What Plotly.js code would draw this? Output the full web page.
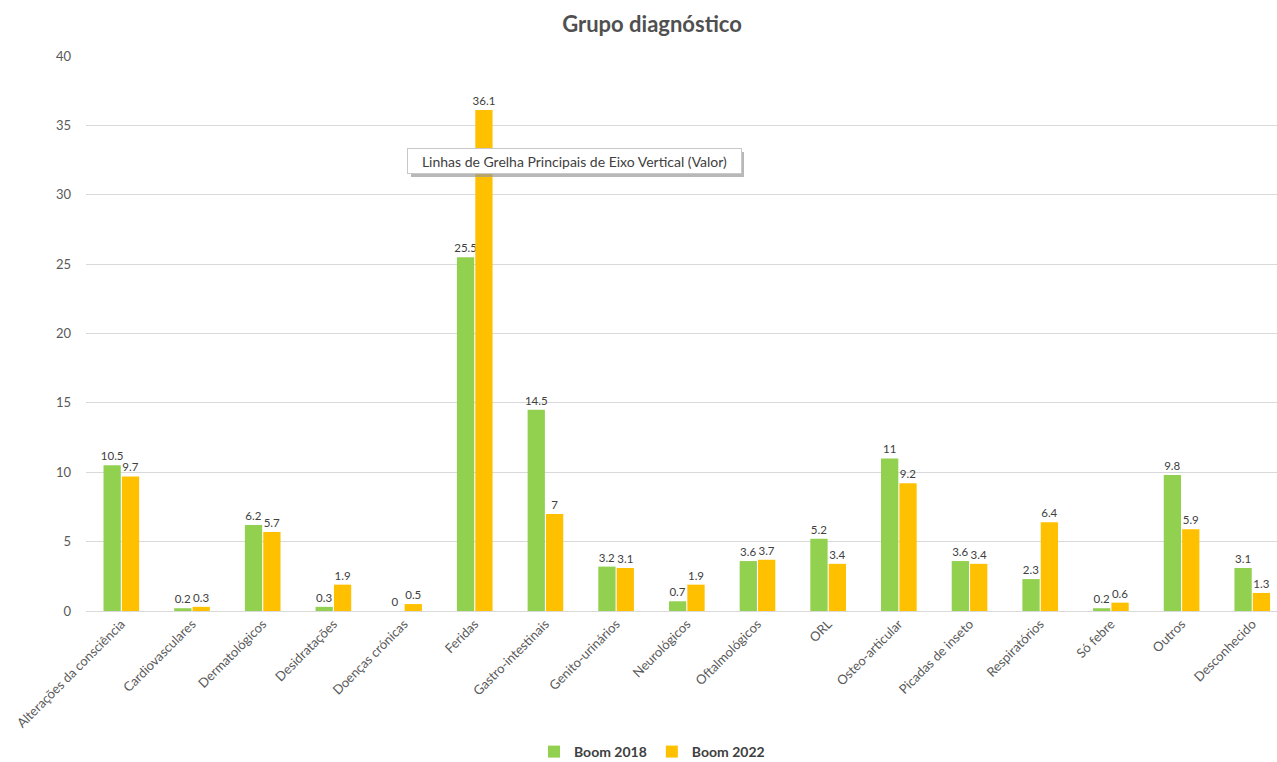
<!DOCTYPE html>
<html>
<head>
<meta charset="utf-8">
<script src="https://cdn.plot.ly/plotly-3.0.1.min.js"></script>
<style>html,body{margin:0;padding:0;background:#fff;}#chart{width:1277px;height:762px;}</style>
</head>
<body>
<div id="chart"></div>
<script>
const categories = ["Alterações da consciência","Cardiovasculares","Dermatológicos","Desidratações","Doenças crónicas","Feridas","Gastro-intestinais","Genito-urinários","Neurológicos","Oftalmológicos","ORL","Osteo-articular","Picadas de inseto","Respiratórios","Só febre","Outros","Desconhecido"];
const boom2018 = [10.5,0.2,6.2,0.3,0,25.5,14.5,3.2,0.7,3.6,5.2,11,3.6,2.3,0.2,9.8,3.1];
const boom2022 = [9.7,0.3,5.7,1.9,0.5,36.1,7,3.1,1.9,3.7,3.4,9.2,3.4,6.4,0.6,5.9,1.3];
const seriesNames = ["Boom 2018","Boom 2022"];
const yTicks = [0,5,10,15,20,25,30,35,40];

const fontFam = "Lato, 'Open Sans', 'Liberation Sans', sans-serif";
const labelFont = {family: fontFam, size: 11.5, color: "#404040"};

const traces = [
  {type:"bar", name:seriesNames[0], x:categories, y:boom2018, marker:{color:"#92D050"},
   text:boom2018.map(String), textposition:"outside", constraintext:"none", textfont:labelFont, cliponaxis:false, hoverinfo:"x+y"},
  {type:"bar", name:seriesNames[1], x:categories, y:boom2022, marker:{color:"#FFC000"},
   text:boom2022.map(String), textposition:"outside", constraintext:"none", textfont:labelFont, cliponaxis:false, hoverinfo:"x+y"}
];

const layout = {
  width:1277, height:762,
  margin:{l:86, r:0, t:56, b:151},
  paper_bgcolor:"#ffffff", plot_bgcolor:"#ffffff",
  font:{family:fontFam, color:"#595959"},
  title:{text:"<b>Grupo diagnóstico</b>", x:652/1277, xref:"container", xanchor:"center",
         y:1-24/762, yref:"container", yanchor:"middle",
         font:{family:fontFam, size:22, color:"#505050"}},
  barmode:"group", bargap:0.48, bargroupgap:0.06,
  xaxis:{type:"category", range:[-0.5,16.35], tickangle:-45, showgrid:false, showline:false, zeroline:false,
         ticks:"", ticklabelstandoff:2, tickfont:{family:fontFam, size:13, color:"#595959"}, automargin:false},
  yaxis:{range:[0,40], tickvals:yTicks, showgrid:true, gridcolor:"#d9d9d9", gridwidth:1, zeroline:true,
         zerolinecolor:"#d9d9d9", zerolinewidth:1, showline:false, ticks:"", ticklabelstandoff:14,
         tickfont:{family:fontFam, size:13, color:"#595959"}, automargin:false},
  showlegend:true,
  legend:{orientation:"h", xref:"container", x:652/1277, xanchor:"center", yref:"container", y:1-752/762, yanchor:"middle",
          font:{family:fontFam, size:14, color:"#404040", weight:"bold"}, itemwidth:30, traceorder:"normal"},
  shapes:[
    {type:"rect", xref:"paper", yref:"paper", x0:(411-86)/1191, x1:(744-86)/1191,
     y0:(611-177)/555, y1:(611-152)/555, fillcolor:"#9a9a9a", line:{width:0}, layer:"above", opacity:0.7}
  ],
  annotations:[
    {xref:"paper", yref:"paper", x:(574-86)/1191, y:(611-161)/555, xanchor:"center", yanchor:"middle",
     text:"Linhas de Grelha Principais de Eixo Vertical (Valor)", showarrow:false,
     font:{family:fontFam, size:14, color:"#404040"}, bgcolor:"#ffffff", bordercolor:"#c8c8c8", borderwidth:1,
     borderpad:4, width:325, height:16}
  ]
};

Plotly.newPlot("chart", traces, layout, {displayModeBar:false, staticPlot:true});
</script>
</body>
</html>
